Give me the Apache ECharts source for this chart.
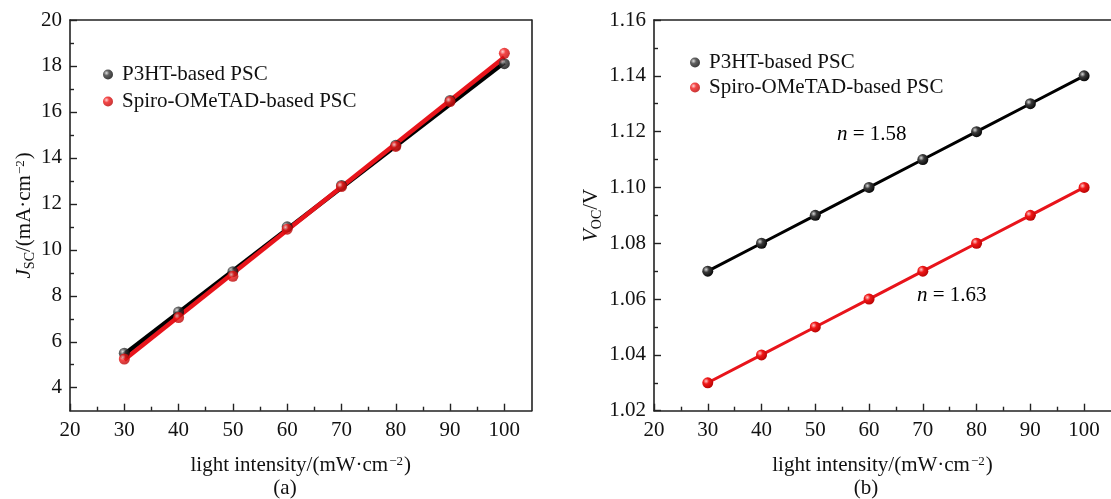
<!DOCTYPE html>
<html><head><meta charset="utf-8">
<script src="https://cdn.jsdelivr.net/npm/echarts@6/dist/echarts.min.js"></script>
<style>html,body{margin:0;padding:0;background:#fff}#c{width:1111px;height:499px}</style>
</head><body><div id="c"></div>
<script>
// ---- data ----
const intensity = [30, 40, 50, 60, 70, 80, 90, 100];
const jscP3HT  = [5.5, 7.3, 9.05, 11.0, 12.8, 14.55, 16.5, 18.1];
const jscSpiro = [5.25, 7.05, 8.85, 10.9, 12.75, 14.5, 16.45, 18.55];
const fitX = [30, 100];
const fitJscP3HT  = [5.45, 18.15];
const fitJscSpiro = [5.22, 18.38];
const vocP3HT  = [1.07, 1.08, 1.09, 1.10, 1.11, 1.12, 1.13, 1.14];
const vocSpiro = [1.03, 1.04, 1.05, 1.06, 1.07, 1.08, 1.09, 1.10];
const xMajorTicks = [20, 30, 40, 50, 60, 70, 80, 90, 100];
const xMinorTicks = [25, 35, 45, 55, 65, 75, 85, 95];
const jscMajorTicks = [4, 6, 8, 10, 12, 14, 16, 18, 20];
const jscMinorTicks = [5, 7, 9, 11, 13, 15, 17, 19];
const vocMajorTicks = [1.02, 1.04, 1.06, 1.08, 1.10, 1.12, 1.14, 1.16];
const vocMinorTicks = [1.03, 1.05, 1.07, 1.09, 1.11, 1.13, 1.15];
const seriesNames = ['P3HT-based PSC', 'Spiro-OMeTAD-based PSC'];

const FONT = "'Liberation Serif','Times New Roman',serif";
const FS = 21;
const pairs = (xs, ys) => xs.map((x, i) => [x, ys[i]]);
const blackBall = {type:'radial', x:0.35, y:0.35, r:0.75, colorStops:[{offset:0,color:'#d8d8d8'},{offset:0.35,color:'#3a3a3a'},{offset:1,color:'#000'}]};
const redBall = {type:'radial', x:0.35, y:0.35, r:0.75, colorStops:[{offset:0,color:'#ffc8c8'},{offset:0.35,color:'#f01818'},{offset:1,color:'#b00000'}]};
const RED = '#e8141b';
const AX = '#222';

const nameRich = {
  m: {fontFamily: FONT, fontSize: FS, color: '#111'},
  i: {fontFamily: FONT, fontSize: FS, fontStyle: 'italic', color: '#111'},
  sub: {fontFamily: FONT, fontSize: 14, color: '#111', verticalAlign: 'bottom', padding:[0,0,-2,0]},
  sup: {fontFamily: FONT, fontSize: 13, color: '#111', verticalAlign: 'top', padding:[0,1,0,1]}
};

function xAxes(grid) {
  return [
    {type:'value', gridIndex:grid, min:20, max:105, position:'bottom',
     axisLine:{show:true, lineStyle:{color:AX, width:1.6}},
     axisTick:{show:true, inside:true, length:7, customValues:xMajorTicks, lineStyle:{color:AX, width:1.4}},
     axisLabel:{show:true, customValues:xMajorTicks, margin:9, fontFamily:FONT, fontSize:FS, color:'#111'},
     splitLine:{show:false},
     name:'{m|light intensity/(mW·cm}{sup|−2}{m|)}', nameLocation:'middle', nameGap:44,
     nameTextStyle:{rich:nameRich}},
    {type:'value', gridIndex:grid, min:20, max:105, position:'bottom',
     axisLine:{show:false},
     axisTick:{show:true, inside:true, length:4, customValues:xMinorTicks, lineStyle:{color:AX, width:1.4}},
     axisLabel:{show:false}, splitLine:{show:false}}
  ];
}
function frameX(grid) {
  return {type:'value', gridIndex:grid, min:20, max:105, position:'top',
    axisLine:{show:true, onZero:false, lineStyle:{color:AX, width:1.6}},
    axisTick:{show:false}, axisLabel:{show:false}, splitLine:{show:false}};
}
function yAxes(grid, min, max, major, minor, fmt, name, gap) {
  return [
    {type:'value', gridIndex:grid, min:min, max:max, position:'left',
     axisLine:{show:true, lineStyle:{color:AX, width:1.6}},
     axisTick:{show:true, inside:true, length:7, customValues:major, lineStyle:{color:AX, width:1.4}},
     axisLabel:{show:true, customValues:major, margin:8, fontFamily:FONT, fontSize:FS, color:'#111', formatter:fmt},
     splitLine:{show:false},
     name:name, nameLocation:'middle', nameRotate:90, nameGap:gap,
     nameTextStyle:{rich:nameRich}},
    {type:'value', gridIndex:grid, min:min, max:max, position:'left',
     axisLine:{show:false},
     axisTick:{show:true, inside:true, length:4, customValues:minor, lineStyle:{color:AX, width:1.4}},
     axisLabel:{show:false}, splitLine:{show:false}}
  ];
}

const option = {
  backgroundColor: '#fff',
  animation: false,
  grid: [
    {left:70, top:20, width:461.5, height:390.7},
    {left:654, top:20, width:466, height:390.7}
  ],
  xAxis: [...xAxes(0), ...xAxes(1), frameX(0), frameX(1)],
  yAxis: [
    ...yAxes(0, 3, 20, jscMajorTicks, jscMinorTicks, v => String(v),
      '{i|J}{sub|SC}{m|/(mA·cm}{sup|−2}{m|)}', 35),
    ...yAxes(1, 1.02, 1.16, vocMajorTicks, vocMinorTicks, v => v.toFixed(2),
      '{i|V}{sub|OC}{m|/V}', 52),
    {type:'value', gridIndex:0, min:3, max:20, position:'right',
     axisLine:{show:true, onZero:false, lineStyle:{color:AX, width:1.6}},
     axisTick:{show:false}, axisLabel:{show:false}, splitLine:{show:false}}
  ],
  legend: [
    {orient:'vertical', left:98, top:59, itemGap:6, itemWidth:10, itemHeight:10, icon:'circle',
     data:seriesNames, selectedMode:false,
     textStyle:{fontFamily:FONT, fontSize:FS, color:'#111', padding:[0,0,0,4]}},
    {orient:'vertical', left:685, top:47, itemGap:4, itemWidth:10, itemHeight:10, icon:'circle',
     data:seriesNames, selectedMode:false,
     textStyle:{fontFamily:FONT, fontSize:FS, color:'#111', padding:[0,0,0,4]}}
  ],
  series: [
    {name:'fitP3HT', type:'line', xAxisIndex:0, yAxisIndex:0, data:pairs(fitX, fitJscP3HT), symbol:'none',
     lineStyle:{color:'#000', width:4.5}, z:2},
    {name:'fitSpiro', type:'line', xAxisIndex:0, yAxisIndex:0, data:pairs(fitX, fitJscSpiro), symbol:'none',
     lineStyle:{color:RED, width:4.5}, z:3},
    {name:seriesNames[0], type:'scatter', xAxisIndex:0, yAxisIndex:0, data:pairs(intensity, jscP3HT),
     symbol:'circle', symbolSize:11, itemStyle:{color:blackBall}, z:4},
    {name:seriesNames[1], type:'scatter', xAxisIndex:0, yAxisIndex:0, data:pairs(intensity, jscSpiro),
     symbol:'circle', symbolSize:11, itemStyle:{color:redBall}, z:5},
    {name:seriesNames[0], type:'line', xAxisIndex:2, yAxisIndex:2, data:pairs(intensity, vocP3HT),
     symbol:'circle', symbolSize:11, showAllSymbol:true, lineStyle:{color:'#000', width:3}, itemStyle:{color:blackBall}, z:4},
    {name:seriesNames[1], type:'line', xAxisIndex:2, yAxisIndex:2, data:pairs(intensity, vocSpiro),
     symbol:'circle', symbolSize:11, showAllSymbol:true, lineStyle:{color:RED, width:3}, itemStyle:{color:redBall}, z:5}
  ],
  graphic: [
    {type:'text', left:837, top:124, style:{text:'{i|n}{m| = 1.58}', rich:nameRich}},
    {type:'text', left:917, top:285, style:{text:'{i|n}{m| = 1.63}', rich:nameRich}},
    {type:'text', x:285, y:488, style:{text:'(a)', fontFamily:FONT, fontSize:FS, fill:'#111', align:'center', verticalAlign:'middle'}},
    {type:'text', x:866, y:488, style:{text:'(b)', fontFamily:FONT, fontSize:FS, fill:'#111', align:'center', verticalAlign:'middle'}}
  ]
};
const chart = echarts.init(document.getElementById('c'), null, {renderer:'canvas'});
chart.setOption(option);
</script></body></html>
